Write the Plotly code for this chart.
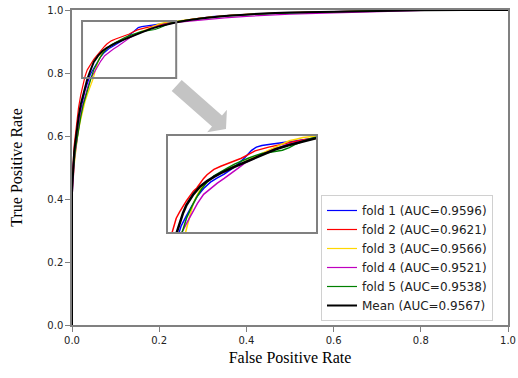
import plotly.graph_objects as go

# ---- data ----
fold1_fpr = [0, 0, 0.007, 0.012, 0.018, 0.024, 0.03, 0.036, 0.042, 0.05, 0.058, 0.066, 0.075, 0.085, 0.095, 0.105, 0.115, 0.125, 0.135, 0.145, 0.152, 0.16, 0.17, 0.18, 0.19, 0.2, 0.215, 0.23, 0.25, 0.28, 0.32, 0.37, 0.43, 0.5, 0.6, 0.7, 0.8, 1.0]
fold1_tpr = [0, 0.48, 0.56, 0.62, 0.67, 0.71, 0.745, 0.77, 0.795, 0.815, 0.835, 0.852, 0.866, 0.878, 0.886, 0.893, 0.902, 0.912, 0.924, 0.938, 0.944, 0.947, 0.949, 0.951, 0.953, 0.955, 0.958, 0.962, 0.967, 0.973, 0.979, 0.984, 0.988, 0.991, 0.995, 0.998, 1.0, 1.0]

fold2_fpr = [0, 0, 0.005, 0.01, 0.015, 0.02, 0.025, 0.03, 0.035, 0.04, 0.045, 0.05, 0.055, 0.06, 0.065, 0.07, 0.075, 0.08, 0.09, 0.1, 0.11, 0.12, 0.13, 0.14, 0.15, 0.17, 0.19, 0.21, 0.23, 0.25, 0.28, 0.32, 0.37, 0.43, 0.5, 0.6, 0.7, 0.8, 1.0]
fold2_tpr = [0, 0.45, 0.57, 0.64, 0.69, 0.73, 0.765, 0.79, 0.81, 0.822, 0.833, 0.843, 0.852, 0.861, 0.867, 0.877, 0.885, 0.892, 0.902, 0.908, 0.913, 0.917, 0.923, 0.93, 0.937, 0.944, 0.95, 0.955, 0.96, 0.965, 0.972, 0.978, 0.984, 0.988, 0.992, 0.995, 0.998, 1.0, 1.0]

fold3_fpr = [0, 0, 0.006, 0.012, 0.018, 0.024, 0.03, 0.036, 0.042, 0.048, 0.054, 0.06, 0.066, 0.072, 0.08, 0.09, 0.1, 0.11, 0.12, 0.13, 0.14, 0.15, 0.16, 0.17, 0.18, 0.19, 0.2, 0.21, 0.22, 0.24, 0.27, 0.31, 0.36, 0.42, 0.5, 0.6, 0.7, 0.8, 1.0]
fold3_tpr = [0, 0.42, 0.52, 0.59, 0.64, 0.68, 0.71, 0.735, 0.755, 0.78, 0.81, 0.838, 0.855, 0.868, 0.878, 0.888, 0.896, 0.903, 0.908, 0.913, 0.92, 0.926, 0.932, 0.938, 0.945, 0.951, 0.956, 0.959, 0.962, 0.965, 0.971, 0.977, 0.983, 0.988, 0.992, 0.995, 0.998, 1.0, 1.0]

fold4_fpr = [0, 0, 0.006, 0.012, 0.018, 0.024, 0.03, 0.036, 0.042, 0.05, 0.058, 0.066, 0.075, 0.085, 0.095, 0.105, 0.115, 0.125, 0.135, 0.15, 0.165, 0.18, 0.195, 0.21, 0.225, 0.24, 0.27, 0.3, 0.35, 0.4, 0.45, 0.5, 0.6, 0.7, 0.8, 0.85, 1.0]
fold4_tpr = [0, 0.40, 0.53, 0.60, 0.655, 0.695, 0.73, 0.755, 0.78, 0.80, 0.82, 0.838, 0.855, 0.866, 0.876, 0.885, 0.894, 0.904, 0.914, 0.924, 0.933, 0.941, 0.948, 0.953, 0.957, 0.961, 0.965, 0.969, 0.975, 0.98, 0.984, 0.987, 0.991, 0.994, 0.997, 1.0, 1.0]

fold5_fpr = [0, 0, 0.008, 0.014, 0.02, 0.026, 0.032, 0.038, 0.044, 0.05, 0.057, 0.064, 0.072, 0.08, 0.09, 0.1, 0.11, 0.12, 0.13, 0.14, 0.15, 0.16, 0.17, 0.18, 0.19, 0.2, 0.21, 0.22, 0.23, 0.24, 0.27, 0.31, 0.36, 0.42, 0.5, 0.6, 0.7, 0.8, 1.0]
fold5_tpr = [0, 0.45, 0.56, 0.615, 0.66, 0.70, 0.73, 0.76, 0.785, 0.81, 0.83, 0.848, 0.865, 0.878, 0.89, 0.898, 0.905, 0.912, 0.918, 0.923, 0.928, 0.932, 0.934, 0.936, 0.938, 0.943, 0.95, 0.955, 0.96, 0.963, 0.969, 0.976, 0.982, 0.987, 0.991, 0.995, 0.998, 1.0, 1.0]

mean_fpr = [0, 0, 0.005, 0.01, 0.015, 0.02, 0.025, 0.03, 0.035, 0.04, 0.045, 0.05, 0.06, 0.07, 0.08, 0.09, 0.10, 0.12, 0.14, 0.16, 0.18, 0.20, 0.22, 0.24, 0.27, 0.30, 0.35, 0.40, 0.45, 0.50, 0.60, 0.70, 0.80, 0.90, 1.0]
mean_tpr = [0, 0.42, 0.55, 0.61, 0.66, 0.70, 0.73, 0.76, 0.78, 0.80, 0.82, 0.835, 0.855, 0.87, 0.88, 0.888, 0.895, 0.907, 0.918, 0.93, 0.94, 0.948, 0.955, 0.961, 0.968, 0.974, 0.981, 0.986, 0.99, 0.992, 0.995, 0.997, 0.999, 1.0, 1.0]

fold_names = ["fold 1 (AUC=0.9596)", "fold 2 (AUC=0.9621)", "fold 3 (AUC=0.9566)",
              "fold 4 (AUC=0.9521)", "fold 5 (AUC=0.9538)"]
mean_name = "Mean (AUC=0.9567)"
fold_colors = ["#0000ff", "#ff0000", "#ffd700", "#bf00bf", "#008000"]

x_ticks = [0.0, 0.2, 0.4, 0.6, 0.8, 1.0]
y_ticks = [0.0, 0.2, 0.4, 0.6, 0.8, 1.0]

ZOOM_X = [0.023, 0.239]
ZOOM_Y = [0.784, 0.965]

folds = [(fold1_fpr, fold1_tpr), (fold2_fpr, fold2_tpr), (fold3_fpr, fold3_tpr),
         (fold4_fpr, fold4_tpr), (fold5_fpr, fold5_tpr)]

# ---- figure ----
W, H = 518, 378
ML, MR, MT, MB = 72, 10, 10, 53
PW, PH = W - ML - MR, H - MT - MB


def px2paper(px, py):
    return (px - ML) / PW, (H - MB - py) / PH


fig = go.Figure()

for (fx, fy), nm, col in zip(folds, fold_names, fold_colors):
    fig.add_trace(go.Scatter(x=fx, y=fy, mode="lines", name=nm,
                             line=dict(color=col, width=1.2),
                             xaxis="x", yaxis="y"))
fig.add_trace(go.Scatter(x=mean_fpr, y=mean_tpr, mode="lines", name=mean_name,
                         line=dict(color="black", width=2), xaxis="x", yaxis="y"))

# inset copies
for (fx, fy), col in zip(folds, fold_colors):
    fig.add_trace(go.Scatter(x=fx, y=fy, mode="lines", showlegend=False,
                             line=dict(color=col, width=1.5),
                             xaxis="x2", yaxis="y2", hoverinfo="skip"))
fig.add_trace(go.Scatter(x=mean_fpr, y=mean_tpr, mode="lines", showlegend=False,
                         line=dict(color="black", width=2.5), xaxis="x2", yaxis="y2",
                         hoverinfo="skip"))

# inset domain (pixels of the reference)
ix0, iy0 = px2paper(168, 232)
ix1, iy1 = px2paper(316, 136)

# arrow polygon (pixels)
arrow_px = [(181.7, 79.9), (222.0, 115.4), (226.9, 109.75), (226.0, 128.9),
            (207.1, 132.25), (212.0, 126.6), (171.7, 91.1)]
pts = [px2paper(a, b) for a, b in arrow_px]
path = "M " + " L ".join(f"{a:.4f},{b:.4f}" for a, b in pts) + " Z"

fig.update_layout(
    width=W, height=H,
    margin=dict(l=ML, r=MR, t=MT, b=MB, pad=0, autoexpand=False),
    paper_bgcolor="white", plot_bgcolor="white",
    font=dict(family="DejaVu Sans", size=10, color="#222222"),
    xaxis=dict(domain=[0, 1], range=[0, 1], tickvals=x_ticks, automargin=False,
               ticktext=[f"{v:.1f}" for v in x_ticks],
               showgrid=False, zeroline=False, showline=True, mirror=True,
               linecolor="#808080", linewidth=1.5, ticks="outside", ticklen=5,
               tickcolor="#808080", tickfont=dict(size=10, family="DejaVu Sans"),
               title=dict(text="False Positive Rate", standoff=7,
                          font=dict(family="Liberation Serif", size=16, color="black"))),
    yaxis=dict(domain=[0, 1], range=[0, 1], tickvals=y_ticks, automargin=False,
               ticktext=[f"{v:.1f}" for v in y_ticks],
               showgrid=False, zeroline=False, showline=True, mirror=True,
               linecolor="#808080", linewidth=1.5, ticks="outside", ticklen=5,
               tickcolor="#808080", tickfont=dict(size=10, family="DejaVu Sans"),
               title=dict(text="True Positive Rate", standoff=21,
                          font=dict(family="Liberation Serif", size=16, color="black"))),
    xaxis2=dict(domain=[ix0, ix1], range=ZOOM_X, anchor="y2", showticklabels=False,
                showgrid=False, zeroline=False, showline=True, mirror=True,
                linecolor="#808080", linewidth=2, ticks=""),
    yaxis2=dict(domain=[iy0, iy1], range=ZOOM_Y, anchor="x2", showticklabels=False,
                showgrid=False, zeroline=False, showline=True, mirror=True,
                linecolor="#808080", linewidth=2, ticks=""),
    legend=dict(x=px2paper(321, 0)[0], y=px2paper(0, 321)[1], xanchor="left", yanchor="bottom",
                bgcolor="white", bordercolor="#d0d0d0", borderwidth=1,
                font=dict(family="DejaVu Sans", size=12, color="#222222"),
                tracegroupgap=0),
    shapes=[
        dict(type="rect", xref="x", yref="y", x0=ZOOM_X[0], x1=ZOOM_X[1],
             y0=ZOOM_Y[0], y1=ZOOM_Y[1], line=dict(color="#808080", width=2)),
        dict(type="path", xref="paper", yref="paper", path=path,
             fillcolor="#c4c4c4", line=dict(width=0)),
    ],
)

fig.write_html("out.html", config={"displayModeBar": False},
               post_script="document.body.style.margin='0';document.body.style.overflow='hidden';")
